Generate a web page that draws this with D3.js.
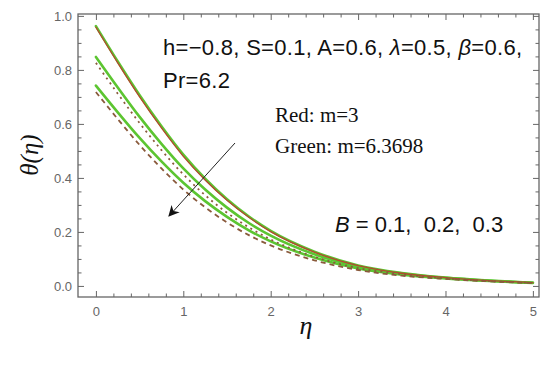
<!DOCTYPE html>
<html><head><meta charset="utf-8">
<script src="https://cdn.jsdelivr.net/npm/d3@7"></script>
<style>body{margin:0;background:#fff}svg{display:block}</style>
</head><body>
<svg id="c" width="550" height="365"></svg>
<script>
const etas = [0, 0.25, 0.5, 0.75, 1, 1.25, 1.5, 1.75, 2, 2.5, 3, 3.5, 4, 4.5, 5];
const greenB1 = [0.962,0.831,0.706,0.591,0.486,0.397,0.321,0.257,0.204,0.127,0.076,0.048,0.031,0.020,0.012];
const redB1   = [0.958,0.826,0.700,0.585,0.480,0.392,0.317,0.254,0.201,0.125,0.075,0.047,0.031,0.020,0.012];
const greenB2 = [0.848,0.735,0.626,0.526,0.435,0.357,0.290,0.233,0.186,0.117,0.072,0.046,0.030,0.019,0.012];
const redB2   = [0.826,0.712,0.603,0.503,0.413,0.336,0.271,0.217,0.172,0.108,0.066,0.043,0.028,0.018,0.011];
const greenB3 = [0.742,0.643,0.548,0.461,0.382,0.314,0.256,0.206,0.165,0.105,0.065,0.042,0.028,0.018,0.011];
const redB3   = [0.718,0.618,0.522,0.435,0.357,0.291,0.235,0.188,0.150,0.095,0.059,0.038,0.026,0.017,0.010];
const xTicks = [0,1,2,3,4,5];
const yTicks = [0.0,0.2,0.4,0.6,0.8,1.0];

const svg = d3.select("#c");
const L=78, R=539, T=14, B=297;
const x = d3.scaleLinear().domain([-0.205, 5.07]).range([L, R]);
const y = d3.scaleLinear().domain([-0.041, 1.007]).range([B, T]);
const frameColor = "#666";

svg.append("rect").attr("x",L).attr("y",T).attr("width",R-L).attr("height",B-T)
  .attr("fill","none").attr("stroke",frameColor).attr("stroke-width",1.3);

const xMinor = d3.range(0, 5.01, 0.2).filter(v => Math.abs(v - Math.round(v)) > 1e-6);
const yMinor = d3.range(0, 1.001, 0.05).filter(v => Math.abs(v*5 - Math.round(v*5)) > 1e-6);

function ticks(axisGen, tr) {
  const g = svg.append("g").attr("transform", tr).call(axisGen);
  g.select(".domain").remove();
  g.selectAll("line").attr("stroke", frameColor);
  g.selectAll("text").attr("fill","#666").attr("font-family","Arial, Liberation Sans, sans-serif").attr("font-size",13);
  return g;
}
ticks(d3.axisBottom(x).tickValues(xTicks).tickSize(-6).tickPadding(10).tickFormat(d3.format("d")), `translate(0,${B})`);
ticks(d3.axisBottom(x).tickValues(xMinor).tickSize(-3.5).tickFormat(""), `translate(0,${B})`);
ticks(d3.axisTop(x).tickValues(xTicks).tickSize(-6).tickFormat(""), `translate(0,${T})`);
ticks(d3.axisTop(x).tickValues(xMinor).tickSize(-3.5).tickFormat(""), `translate(0,${T})`);
ticks(d3.axisLeft(y).tickValues(yTicks).tickSize(-6).tickPadding(6).tickFormat(d3.format(".1f")), `translate(${L},0)`);
ticks(d3.axisLeft(y).tickValues(yMinor).tickSize(-3.5).tickFormat(""), `translate(${L},0)`);
ticks(d3.axisRight(y).tickValues(yTicks).tickSize(-6).tickFormat(""), `translate(${R},0)`);
ticks(d3.axisRight(y).tickValues(yMinor).tickSize(-3.5).tickFormat(""), `translate(${R},0)`);

const line = d3.line().x((d,i)=>x(etas[i])).y(d=>y(d)).curve(d3.curveMonotoneX);
const green = "#5cc531";
const red = "#b34a2e";
const series = [
  {v: greenB1, c: green, w: 2.6, dash: null},
  {v: greenB2, c: green, w: 2.6, dash: null},
  {v: greenB3, c: green, w: 2.6, dash: null},
  {v: redB1, c: red, w: 1.3, dash: null},
  {v: redB2, c: "#8a5a3c", w: 1.8, dash: "2,4"},
  {v: redB3, c: "#8a5a3c", w: 1.8, dash: "5,4"}
];
series.forEach(s => {
  svg.append("path").datum(s.v).attr("d", line).attr("fill","none")
    .attr("stroke", s.c).attr("stroke-width", s.w)
    .attr("stroke-dasharray", s.dash).attr("stroke-linecap", s.dash ? "butt" : "round");
});

const sans = "Arial, Liberation Sans, sans-serif";
const t1 = svg.append("text").attr("x",163).attr("y",55).attr("font-family",sans).attr("font-size",22)
  .attr("letter-spacing",0.3).attr("fill","#111");
t1.append("tspan").text("h=\u22120.8, S=0.1, A=0.6, ");
t1.append("tspan").attr("font-style","italic").text("\u03bb");
t1.append("tspan").text("=0.5, ");
t1.append("tspan").attr("font-style","italic").text("\u03b2");
t1.append("tspan").text("=0.6,");
svg.append("text").attr("x",163).attr("y",88).attr("font-family",sans).attr("font-size",22)
  .attr("letter-spacing",0.3).attr("fill","#111").text("Pr=6.2");

const serif = "Liberation Serif, Times New Roman, serif";
svg.append("text").attr("x",275).attr("y",122).attr("font-family",serif).attr("font-size",21).attr("fill","#111").text("Red: m=3");
svg.append("text").attr("x",275).attr("y",153).attr("font-family",serif).attr("font-size",21).attr("fill","#111").text("Green: m=6.3698");

const tb = svg.append("text").attr("x",335).attr("y",232).attr("font-family",sans).attr("font-size",22)
  .attr("fill","#111").style("white-space","pre");
tb.append("tspan").attr("font-style","italic").text("B");
tb.append("tspan").text(" = 0.1,\u00a0 0.2,\u00a0 0.3");

svg.append("defs").append("marker").attr("id","ah").attr("viewBox","0 0 10 10").attr("refX",9).attr("refY",5)
  .attr("markerWidth",11).attr("markerHeight",11).attr("markerUnits","userSpaceOnUse").attr("orient","auto")
  .append("path").attr("d","M0,0 L10,5 L0,10 L3,5 Z").attr("fill","#111");
svg.append("line").attr("x1",235).attr("y1",143).attr("x2",169).attr("y2",216)
  .attr("stroke","#222").attr("stroke-width",1).attr("marker-end","url(#ah)");

svg.append("text").attr("transform","translate(38,155) rotate(-90)").attr("text-anchor","middle")
  .attr("font-family",serif).attr("font-size",25).attr("font-style","italic").attr("fill","#111").text("\u03b8(\u03b7)");
svg.append("text").attr("x",306).attr("y",334).attr("text-anchor","middle")
  .attr("font-family",serif).attr("font-size",26).attr("font-style","italic").attr("fill","#111").text("\u03b7");
</script>
</body></html>
